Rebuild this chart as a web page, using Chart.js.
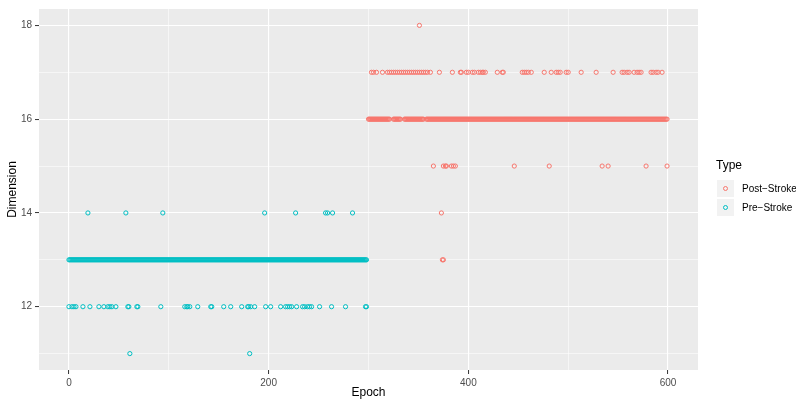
<!DOCTYPE html>
<html>
<head>
<meta charset="utf-8">
<script src="https://cdn.jsdelivr.net/npm/chart.js@4.4.1/dist/chart.umd.min.js"></script>
<style>
  body { margin: 0; background: #ffffff; overflow: hidden; }
  #wrap { position: relative; width: 796px; height: 401px; font-family: "Liberation Sans", Arial, sans-serif; }
  #legend { position: absolute; left: 716px; top: 158px; width: 90px; white-space: nowrap; }
  #legend .title { font-size: 12px; color: #000; line-height: 15px; margin-bottom: 6px; }
  #legend .row { display: flex; align-items: center; height: 19px; }
  #legend .key { width: 17px; height: 17px; background: #F2F2F2; position: relative; margin-left: 1px; flex: none; }
  #legend .key span { position: absolute; left: 6px; top: 6px; width: 3px; height: 3px; border-radius: 50%; border: 1px solid; }
  #legend .lab { font-size: 10px; color: #000; margin-left: 8px; white-space: nowrap; }
</style>
</head>
<body>
<div id="wrap">
  <canvas id="chart" width="796" height="401"></canvas>
  <div id="legend"></div>
</div>
<script>
// epochs at each dimension value
const preAt11 = [61, 181];
const preAt12 = [0, 3, 5, 7, 14, 21, 30, 35, 39, 41, 43, 47, 59, 60, 68, 69, 92, 116, 118, 119, 121, 129, 142, 143,
  155, 162, 173, 179, 180, 182, 186, 197, 202, 212, 217, 219, 221, 223, 228, 234, 236, 239, 241, 243, 251, 263, 277, 297, 298];
const preAt13 = [
  0, 1, 2, 3, 4, 5, 6, 7, 8, 9, 10, 11, 12, 13, 14, 15, 16, 17, 18, 19, 20, 21, 22, 23, 24, 25, 26, 27, 28, 29,
  30, 31, 32, 33, 34, 35, 36, 37, 38, 39, 40, 41, 42, 43, 44, 45, 46, 47, 48, 49, 50, 51, 52, 53, 54, 55, 56, 57, 58, 59,
  60, 61, 62, 63, 64, 65, 66, 67, 68, 69, 70, 71, 72, 73, 74, 75, 76, 77, 78, 79, 80, 81, 82, 83, 84, 85, 86, 87, 88, 89,
  90, 91, 92, 93, 94, 95, 96, 97, 98, 99, 100, 101, 102, 103, 104, 105, 106, 107, 108, 109, 110, 111, 112, 113, 114, 115,
  116, 117, 118, 119, 120, 121, 122, 123, 124, 125, 126, 127, 128, 129, 130, 131, 132, 133, 134, 135, 136, 137, 138, 139,
  140, 141, 142, 143, 144, 145, 146, 147, 148, 149, 150, 151, 152, 153, 154, 155, 156, 157, 158, 159, 160, 161, 162, 163,
  164, 165, 166, 167, 168, 169, 170, 171, 172, 173, 174, 175, 176, 177, 178, 179, 180, 181, 182, 183, 184, 185, 186, 187,
  188, 189, 190, 191, 192, 193, 194, 195, 196, 197, 198, 199, 200, 201, 202, 203, 204, 205, 206, 207, 208, 209, 210, 211,
  212, 213, 214, 215, 216, 217, 218, 219, 220, 221, 222, 223, 224, 225, 226, 227, 228, 229, 230, 231, 232, 233, 234, 235,
  236, 237, 238, 239, 240, 241, 242, 243, 244, 245, 246, 247, 248, 249, 250, 251, 252, 253, 254, 255, 256, 257, 258, 259,
  260, 261, 262, 263, 264, 265, 266, 267, 268, 269, 270, 271, 272, 273, 274, 275, 276, 277, 278, 279, 280, 281, 282, 283,
  284, 285, 286, 287, 288, 289, 290, 291, 292, 293, 294, 295, 296, 297, 298];
const preAt14 = [19, 57, 94, 196, 227, 257, 259, 264, 284];

const postAt13 = [374, 375];
const postAt14 = [373];
const postAt15 = [365, 375, 377, 378, 383, 385, 387, 446, 481, 534, 540, 578, 599];
const postAt16 = [
  300, 301, 302, 303, 304, 305, 306, 307, 308, 309, 310, 311, 312, 313, 314, 315, 316, 317, 318, 319, 320, 321,
  325, 326, 327, 328, 329, 330, 331, 332, 336, 337, 338, 339, 340, 341, 342, 343, 344, 345, 346, 347, 348, 349,
  350, 351, 352, 353, 354, 355, 358, 359, 360, 361, 362, 363, 364, 365, 366, 367, 368, 369, 370, 371, 372, 373,
  374, 375, 376, 377, 378, 379, 380, 381, 382, 383, 384, 385, 386, 387, 388, 389, 390, 391, 392, 393, 394, 395,
  396, 397, 398, 399, 400, 401, 402, 403, 404, 405, 406, 407, 408, 409, 410, 411, 412, 413, 414, 415, 416, 417,
  418, 419, 420, 421, 422, 423, 424, 425, 426, 427, 428, 429, 430, 431, 432, 433, 434, 435, 436, 437, 438, 439,
  440, 441, 442, 443, 444, 445, 446, 447, 448, 449, 450, 451, 452, 453, 454, 455, 456, 457, 458, 459, 460, 461,
  462, 463, 464, 465, 466, 467, 468, 469, 470, 471, 472, 473, 474, 475, 476, 477, 478, 479, 480, 481, 482, 483,
  484, 485, 486, 487, 488, 489, 490, 491, 492, 493, 494, 495, 496, 497, 498, 499, 500, 501, 502, 503, 504, 505,
  506, 507, 508, 509, 510, 511, 512, 513, 514, 515, 516, 517, 518, 519, 520, 521, 522, 523, 524, 525, 526, 527,
  528, 529, 530, 531, 532, 533, 534, 535, 536, 537, 538, 539, 540, 541, 542, 543, 544, 545, 546, 547, 548, 549,
  550, 551, 552, 553, 554, 555, 556, 557, 558, 559, 560, 561, 562, 563, 564, 565, 566, 567, 568, 569, 570, 571,
  572, 573, 574, 575, 576, 577, 578, 579, 580, 581, 582, 583, 584, 585, 586, 587, 588, 589, 590, 591, 592, 593,
  594, 595, 596, 597, 598, 599];
const postAt17 = [303, 305, 308, 314, 319, 321, 323, 325, 327, 329, 331, 333, 335, 337, 339, 341, 343, 345, 347, 349, 351, 353,
  355, 357, 359, 362, 371, 384, 392, 393, 398, 400, 404, 406, 410, 412, 414, 415, 417, 429, 434, 435, 454, 456, 458, 460, 463,
  476, 483, 488, 490, 492, 498, 500, 513, 528, 545, 554, 556, 559, 561, 566, 569, 571, 573, 583, 585, 588, 590, 594];
const postAt18 = [351];

const xTicks = [0, 100, 200, 300, 400, 500, 600];
const yTicks = [11, 12, 13, 14, 15, 16, 17, 18];

const seriesNames = ['Post\u2212Stroke', 'Pre\u2212Stroke'];
const seriesColors = ['#F8766D', '#00BFC4'];

function toPoints(levels) {
    const pts = [];
    levels.forEach(([dim, epochs]) => {
        epochs.forEach(e => pts.push({ x: e, y: dim }));
    });
    return pts;
}

const postPoints = toPoints([[13, postAt13], [14, postAt14], [15, postAt15], [16, postAt16], [17, postAt17], [18, postAt18]]);
const prePoints = toPoints([[11, preAt11], [12, preAt12], [13, preAt13], [14, preAt14]]);

const panelBg = {
    id: 'panelBg',
    beforeDraw(chart) {
        const { ctx, chartArea: a } = chart;
        ctx.save();
        ctx.fillStyle = '#EBEBEB';
        ctx.fillRect(a.left, a.top, a.right - a.left, a.bottom - a.top);
        ctx.restore();
    }
};

const tickFont = { family: '"Liberation Sans", Arial, sans-serif', size: 10 };
const titleFont = { family: '"Liberation Sans", Arial, sans-serif', size: 12 };

function axis(min, max, ticks, isMajor, fit, title, titlePad) {
    return {
        type: 'linear',
        min: min,
        max: max,
        border: { display: false },
        afterBuildTicks: scale => { scale.ticks = ticks.map(v => ({ value: v })); },
        afterFit: fit,
        grid: {
            color: '#FFFFFF',
            lineWidth: c => isMajor(c.tick.value) ? 1.1 : 0.55,
            tickColor: c => isMajor(c.tick.value) ? '#333333' : 'rgba(0,0,0,0)',
            tickLength: 4,
            tickWidth: 1
        },
        ticks: {
            autoSkip: false,
            maxRotation: 0,
            color: '#4D4D4D',
            font: tickFont,
            padding: 3,
            callback: v => isMajor(v) ? String(v) : ''
        },
        title: { display: true, text: title, color: '#000000', font: titleFont, padding: titlePad }
    };
}

new Chart(document.getElementById('chart'), {
    type: 'scatter',
    data: {
        datasets: [
            { label: seriesNames[0], data: postPoints, borderColor: seriesColors[0], backgroundColor: 'rgba(0,0,0,0)',
              pointRadius: 2.1, borderWidth: 1, pointHoverRadius: 2.1 },
            { label: seriesNames[1], data: prePoints, borderColor: seriesColors[1], backgroundColor: 'rgba(0,0,0,0)',
              pointRadius: 2.1, borderWidth: 1, pointHoverRadius: 2.1 }
        ]
    },
    options: {
        responsive: false,
        animation: false,
        devicePixelRatio: 1,
        layout: { padding: { top: 7, right: 98, left: 0, bottom: 0 } },
        plugins: { legend: { display: false }, tooltip: { enabled: false } },
        scales: {
            x: axis(-30, 630, xTicks, v => v % 200 === 0, s => { s.height = 31; }, 'Epoch', { top: 0, bottom: 1 }),
            y: axis(10.65, 18.35, yTicks, v => v % 2 === 0, s => { s.width = 39; }, 'Dimension', { top: 5, bottom: 0 })
        }
    },
    plugins: [panelBg]
});

// legend drawn as html to the right of the panel
const legend = document.getElementById('legend');
legend.innerHTML = '<div class="title">Type</div>';
seriesNames.forEach((name, i) => {
    const row = document.createElement('div');
    row.className = 'row';
    const key = document.createElement('div');
    key.className = 'key';
    const dot = document.createElement('span');
    dot.style.borderColor = seriesColors[i];
    key.appendChild(dot);
    const lab = document.createElement('div');
    lab.className = 'lab';
    lab.textContent = name;
    row.appendChild(key);
    row.appendChild(lab);
    legend.appendChild(row);
});
</script>
</body>
</html>
